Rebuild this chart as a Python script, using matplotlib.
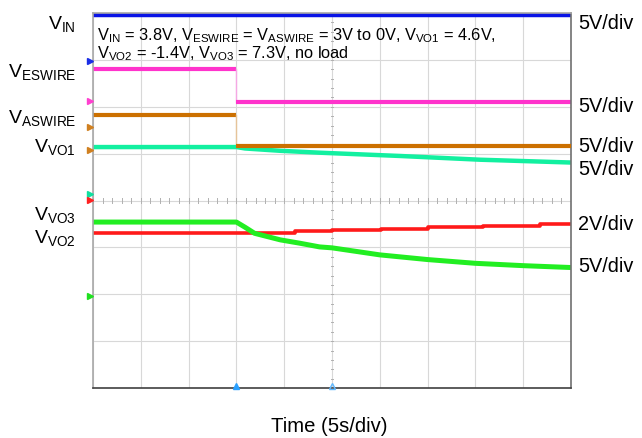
import matplotlib
matplotlib.use('Agg')
import matplotlib.pyplot as plt
import numpy as np

plt.rcParams['font.family'] = ['Liberation Sans', 'DejaVu Sans']
plt.rcParams['mathtext.fontset'] = 'custom'
plt.rcParams['mathtext.rm'] = 'Liberation Sans'
plt.rcParams['mathtext.it'] = 'Liberation Sans'

# time in seconds (5 s/div, 10 div), vertical position in screen divisions (0..8)
T_STEP = 15.0
T_END = 50.0

vin_level = 7.95
eswire_hi, eswire_lo = 6.81, 6.10
aswire_hi, aswire_lo = 5.82, 5.16

vo1_t = [0, 15.0, 15.9, 19.6, 23.7, 32.1, 40.5, 50.0]
vo1_y = [5.14, 5.14, 5.11, 5.06, 5.02, 4.95, 4.87, 4.81]

vo3_t = [0, 15.0, 15.9, 16.9, 19.6, 21.6, 23.7, 25, 30, 35, 40, 45, 50]
vo3_y = [3.54, 3.54, 3.43, 3.30, 3.16, 3.09, 3.01, 2.99, 2.84, 2.74, 2.66, 2.61, 2.57]

vo2_t = [0, 21.1, 25.0, 30.1, 35.0, 40.8, 46.8, 50.0]
vo2_y = [3.31, 3.34, 3.37, 3.40, 3.43, 3.46, 3.50, 3.50]

# channel ground markers on the left edge (divisions) and colours
gnd_levels = [6.98, 6.13, 5.57, 5.07, 4.13, 4.02, 1.97]
gnd_colors = ['#1a2ee6', '#ff40d0', '#d08020', '#d08020', '#10e0a0', '#ff2020', '#20e020']

left_labels = [('V$_{\\mathregular{IN}}$', 29), ('V$_{\\mathregular{ESWIRE}}$', 77),
               ('V$_{\\mathregular{ASWIRE}}$', 123), ('V$_{\\mathregular{VO1}}$', 152),
               ('V$_{\\mathregular{VO3}}$', 220), ('V$_{\\mathregular{VO2}}$', 243)]
right_labels = [('5V/div', 29), ('5V/div', 112), ('5V/div', 152), ('5V/div', 175),
                ('2V/div', 230), ('5V/div', 272)]

W, H = 642, 439
fig = plt.figure(figsize=(W / 100, H / 100), dpi=100)
ax = fig.add_axes([93 / W, (H - 389) / H, 478 / W, 375 / H])
ax.set_xlim(0, T_END)
ax.set_ylim(0, 8)

# graticule
ax.set_xticks(np.arange(0, 51, 5))
ax.set_yticks(np.arange(0, 9, 1))
ax.tick_params(length=0, labelbottom=False, labelleft=False)
ax.grid(True, color='#d8d8d8', lw=0.8)
ax.set_axisbelow(True)
for x in np.arange(0, 50.1, 1.0):
    ax.plot([x, x], [3.94, 4.06], color='#b0b0b0', lw=0.7, zorder=1)
for y in np.arange(0, 8.01, 0.2):
    ax.plot([24.85, 25.15], [y, y], color='#b0b0b0', lw=0.7, zorder=1)
for s, c in [('left', '#a8a8a8'), ('top', '#a8a8a8'), ('right', '#707070'), ('bottom', '#404040')]:
    ax.spines[s].set_color(c)
    ax.spines[s].set_linewidth(1.2)

# traces
ax.plot([0, T_END], [vin_level, vin_level], color='#0a14e6', lw=3.2, solid_capstyle='butt')

ax.plot([0, T_STEP], [eswire_hi] * 2, color='#ff33cc', lw=3, solid_capstyle='butt')
ax.plot([T_STEP, T_STEP], [eswire_hi, eswire_lo], color='#f5a8e4', lw=1)
ax.plot([T_STEP, T_END], [eswire_lo] * 2, color='#ff33cc', lw=3, solid_capstyle='butt')

ax.plot([0, T_STEP], [aswire_hi] * 2, color='#cc7000', lw=3, solid_capstyle='butt')
ax.plot([T_STEP, T_STEP], [aswire_hi, aswire_lo], color='#e6c49a', lw=1)
ax.plot([T_STEP, T_END], [aswire_lo] * 2, color='#cc7000', lw=3, solid_capstyle='butt', zorder=3)

ax.plot(vo1_t, vo1_y, color='#12f0a0', lw=3.2, solid_capstyle='butt', zorder=2)
ax.plot(vo2_t, vo2_y, color='#ff1a1a', lw=2.6, drawstyle='steps-post', solid_capstyle='butt')
ax.plot(vo3_t, vo3_y, color='#22ee22', lw=3.6, solid_capstyle='butt')

# ground markers and trigger markers
for lvl, c in zip(gnd_levels, gnd_colors):
    ax.plot([-0.35], [lvl], marker='>', ms=4, color=c, clip_on=False, zorder=5)
ax.plot([T_STEP], [0.05], marker='^', ms=4, color='#2aa0ff', clip_on=False, zorder=5)
ax.plot([25], [0.05], marker='^', ms=4, mfc='none', mec='#60b8ff', clip_on=False, zorder=5)

# annotation
def fy(py):
    return 1 - py / H

ax_note = ('V$_{\\mathregular{IN}}$ = 3.8V, V$_{\\mathregular{ESWIRE}}$ = V$_{\\mathregular{ASWIRE}}$'
           ' = 3V to 0V, V$_{\\mathregular{VO1}}$ = 4.6V,')
fig.text(97 / W, fy(40), ax_note, fontsize=11.8, va='baseline', ha='left')
fig.text(97 / W, fy(58), 'V$_{\\mathregular{VO2}}$ = -1.4V, V$_{\\mathregular{VO3}}$ = 7.3V, no load',
         fontsize=11.8, va='baseline', ha='left')

for txt, py in left_labels:
    fig.text(76 / W, fy(py), txt, fontsize=14, ha='right', va='baseline')
for txt, py in right_labels:
    fig.text(578 / W, fy(py), txt, fontsize=14.3, ha='left', va='baseline')

fig.text(329 / W, fy(432), 'Time (5s/div)', fontsize=14.6, ha='center', va='baseline')

fig.savefig('out.png', dpi=100, facecolor='white')
